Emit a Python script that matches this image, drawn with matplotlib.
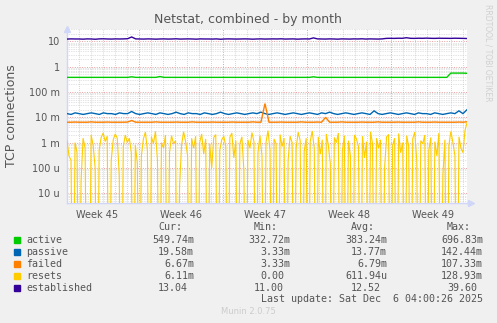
#!/usr/bin/env python3
"""
Munin style netstat chart, by month
"""

import numpy as np
import matplotlib
matplotlib.use('Agg')
import matplotlib.pyplot as plt
from matplotlib.patches import Rectangle

W, H = 497, 323
DAYS = 400 / 12.0   # days covered by the graph

week_labels = ['Week 45', 'Week 46', 'Week 47', 'Week 48', 'Week 49']
week_starts = [6, 13, 20, 27]
ytick_vals = [10, 1, 0.1, 0.01, 1e-3, 1e-4, 1e-5]
ytick_labels = ['10', '1', '100 m', '10 m', '1 m', '100 u', '10 u']

# 8 hour samples
active = [0.38, 0.38, 0.38, 0.38, 0.38, 0.38, 0.38, 0.38, 0.38, 0.38, 0.38, 0.38, 0.38, 0.38, 0.38, 0.38, 0.40, 0.38, 0.38, 0.38,
          0.38, 0.38, 0.38, 0.41, 0.38, 0.38, 0.38, 0.38, 0.38, 0.38, 0.38, 0.38, 0.38, 0.38, 0.38, 0.38, 0.38, 0.38, 0.38, 0.38,
          0.38, 0.38, 0.38, 0.38, 0.38, 0.38, 0.38, 0.38, 0.38, 0.38, 0.38, 0.38, 0.38, 0.38, 0.38, 0.38, 0.38, 0.38, 0.38, 0.38,
          0.38, 0.40, 0.38, 0.38, 0.38, 0.38, 0.38, 0.38, 0.38, 0.38, 0.38, 0.38, 0.38, 0.38, 0.38, 0.38, 0.38, 0.38, 0.38, 0.38,
          0.38, 0.38, 0.38, 0.38, 0.38, 0.38, 0.38, 0.38, 0.38, 0.38, 0.38, 0.38, 0.38, 0.38, 0.38, 0.56, 0.56, 0.56, 0.56, 0.55]

passive_m = [14, 13, 15, 14, 13, 14, 15, 14, 13, 15, 14, 14, 13, 15, 14, 14, 17, 14, 13, 14,
             15, 14, 13, 15, 14, 13, 14, 16, 14, 13, 15, 14, 14, 13, 15, 14, 13, 14, 16, 14,
             13, 14, 15, 14, 13, 14, 15, 14, 16, 14, 13, 14, 15, 14, 13, 14, 15, 14, 13, 14,
             15, 14, 13, 15, 14, 16, 14, 13, 14, 15, 14, 13, 14, 15, 14, 13, 18, 14, 13, 14,
             15, 14, 13, 14, 15, 14, 13, 15, 14, 14, 13, 15, 14, 13, 14, 15, 14, 18, 14, 20]

failed_m = [6.4, 6.4, 6.5, 6.4, 6.4, 6.4, 6.6, 6.4, 6.4, 6.4, 6.5, 6.4, 6.4, 6.4, 6.4, 6.5, 7.5, 6.4, 6.4, 6.4,
            6.4, 6.4, 6.6, 6.4, 6.4, 6.4, 6.4, 6.5, 6.4, 6.4, 6.4, 6.6, 6.4, 6.4, 6.4, 6.4, 6.5, 6.4, 6.4, 6.4,
            6.4, 6.5, 6.4, 6.4, 6.4, 6.4, 6.6, 6.4, 6.4, 35.0, 6.4, 6.4, 6.4, 6.5, 6.4, 6.4, 6.4, 6.4, 6.6, 6.4,
            6.4, 6.4, 6.5, 6.4, 10.0, 6.4, 6.4, 6.4, 6.6, 6.4, 6.4, 6.4, 6.4, 6.5, 6.4, 6.4, 6.4, 6.6, 6.4, 6.4,
            6.4, 6.4, 6.5, 6.4, 6.4, 6.4, 6.4, 6.6, 6.4, 6.4, 6.4, 6.5, 6.4, 6.4, 6.4, 6.4, 6.4, 6.5, 6.4, 6.67]

established = [12.4, 12.6, 12.5, 12.5, 12.3, 12.6, 12.5, 12.2, 12.6, 12.7, 12.5, 12.4, 12.6, 12.5, 12.6, 12.8, 15.0, 12.6, 12.5, 12.4,
               12.6, 12.5, 12.3, 12.5, 12.6, 12.4, 12.5, 12.7, 12.4, 12.5, 12.6, 12.5, 12.3, 12.6, 12.5, 12.5, 12.4, 12.6, 12.2, 12.5,
               12.6, 12.5, 12.4, 12.5, 12.6, 12.5, 12.3, 12.5, 12.6, 12.4, 12.5, 12.6, 12.5, 12.7, 12.4, 12.5, 12.6, 12.3, 12.5, 12.6,
               12.5, 13.8, 12.6, 12.5, 12.4, 12.6, 12.5, 12.3, 12.6, 12.5, 12.4, 12.6, 12.5, 12.7, 12.4, 12.6, 12.5, 12.4, 12.6, 13.2,
               13.3, 13.2, 13.4, 13.3, 14.0, 13.3, 13.2, 13.4, 13.3, 13.5, 13.3, 13.2, 13.4, 13.3, 13.3, 13.2, 13.4, 13.3, 13.2, 13.04]

# 4 hour samples, in milli
resets_m = [1.2, 0.3, 0.2, 0, 1.0, 0.4, 0, 0.03, 1.5, 0.6, 0, 0, 2.0, 0.8, 0.1, 0, 0.5, 1.6, 2.4, 1.1,
            1.8, 0, 0.2, 1.3, 2.2, 1.5, 0.05, 0, 0.7, 2.0, 1.0, 1.5, 0.4, 0, 0.8, 0.15,
            0, 0.3, 1.4, 2.6, 0.5, 0, 1.7, 0.9, 2.8, 0.2, 0, 1.0, 0.6, 2.0, 0, 0.4, 1.9, 0.9, 1.2, 0,
            0.02, 0.8, 2.7, 1.1, 0.3, 0, 1.5, 0.6, 1.8, 0, 1.0, 2.2, 0.35, 1.4, 0, 0.9, 0.1, 1.6, 2.1, 0, 0.5, 1.3,
            1.8, 0.7, 0, 1.6, 2.4, 0.25, 1.2, 0, 0.9, 1.7, 0.08, 0, 1.3, 0.6, 2.5, 1.1, 0, 0.4, 1.9, 0.3,
            0, 1.0, 3.0, 0.5, 0, 1.4, 0.9, 0, 2.1, 0.7, 1.5, 0, 0.2, 1.8, 1.0, 0, 0.6, 2.6, 1.2, 0, 0.45, 1.5,
            0, 1.1, 2.9, 0.6, 0, 1.7, 0.35, 1.3, 0, 2.2, 0.8, 0.15, 0, 1.6, 1.0, 2.4, 0, 0.5, 1.9, 0,
            1.2, 0.3, 0, 2.0, 1.4, 0.7, 0, 1.8, 0.25, 1.1, 0, 2.7, 0.9, 0, 1.5, 0.6, 1.3, 0, 0.1, 1.7, 2.1, 0,
            0.8, 1.5, 0, 2.3, 0.4, 1.0, 0, 1.9, 0.7, 0, 1.4, 2.6, 0.2, 0, 1.2, 0.9, 2.0, 0, 0.5, 1.6,
            0, 1.1, 0.3, 2.4, 0, 0.05, 1.3, 0, 0.8, 2.8, 1.0, 0.3, 0, 1.7, 0.6, 0.4, 3.0, 6.11]

names = ['active', 'passive', 'failed', 'resets', 'established']
colors = ['#00CC00', '#0066B3', '#FF8000', '#FFCC00', '#330099']
widths = [1.0, 1.0, 1.0, 0.8, 1.0]
cur = ['549.74m', '19.58m', '6.67m', '6.11m', '13.04']
mins = ['332.72m', '3.33m', '3.33m', '0.00', '11.00']
avgs = ['383.24m', '13.77m', '6.79m', '611.94u', '12.52']
maxs = ['696.83m', '142.44m', '107.33m', '128.93m', '39.60']

FG = '#555555'
GRID = '#c8c8c8'
MGRID = '#e6a0a0'
AXIS = '#CFD6F8'


def fx(x):
    return x / W


def fy(y):
    return 1 - y / H


def main():
    fig = plt.figure(figsize=(W / 100, H / 100), dpi=100, facecolor='#F0F0F0')
    ax = fig.add_axes([fx(67), fy(203), fx(400), 174 / H])
    ax.set_facecolor('white')
    ax.set_yscale('log')
    ax.set_xlim(0, DAYS)
    ax.set_ylim(4.1e-6, 31)

    # grid
    for d in range(0, int(DAYS) + 1):
        if d in week_starts:
            ax.axvline(d, color=MGRID, lw=0.7, ls=(0, (1, 1.5)), zorder=1)
        else:
            ax.axvline(d, color=GRID, lw=0.6, ls=(0, (1, 1.5)), zorder=1)
    for e in range(-6, 2):
        for m in range(2, 10):
            ax.axhline(m * 10.0 ** e, color=GRID, lw=0.5, ls=(0, (1, 1.5)), zorder=1)
    for v in ytick_vals:
        ax.axhline(v, color=MGRID, lw=0.7, ls=(0, (1, 1.5)), zorder=1)

    series = [np.array(active),
              np.array(passive_m) / 1000.0,
              np.array(failed_m) / 1000.0,
              np.array(resets_m) / 1000.0,
              np.array(established)]
    for vals, c, lw in zip(series, colors, widths):
        x = np.linspace(0, DAYS, len(vals))
        y = np.where(vals > 0, vals, 1e-12)
        ax.plot(x, y, color=c, lw=lw, zorder=3, solid_joinstyle='miter')

    ax.set_yticks(ytick_vals)
    ax.set_yticklabels(ytick_labels)
    ax.yaxis.set_minor_locator(matplotlib.ticker.NullLocator())
    ax.set_xticks([s - 3.5 for s in week_starts] + [week_starts[-1] + 3.5])
    ax.set_xticklabels(week_labels)
    ax.tick_params(axis='both', length=0, labelsize=7, colors=FG)
    ax.tick_params(axis='y', pad=5)
    ax.tick_params(axis='x', pad=5)
    for s in ['top', 'right']:
        ax.spines[s].set_visible(False)
    for s in ['left', 'bottom']:
        ax.spines[s].set_color(AXIS)
        ax.spines[s].set_linewidth(1.0)
    ax.plot([0], [1.0], marker='^', ms=5, color=AXIS, transform=ax.transAxes, clip_on=False)
    ax.plot([1.01], [0], marker='>', ms=5, color=AXIS, transform=ax.transAxes, clip_on=False)

    ax.set_ylabel('TCP connections', fontsize=9, color=FG, labelpad=8)

    fig.text(fx(248), fy(19), 'Netstat, combined - by month', ha='center', va='center',
             fontsize=9, color=FG)
    fig.text(fx(488), fy(53), 'RRDTOOL / TOBI OETIKER', rotation=-90, ha='center', va='center',
             fontsize=5.5, color='#d0d0d0')
    fig.text(fx(248), fy(312), 'Munin 2.0.75', ha='center', va='center', fontsize=6, color='#cccccc')

    # legend table
    mono = dict(family='DejaVu Sans Mono', fontsize=7.2, color=FG, va='center')
    cols = [194, 290, 387, 483]
    for h, xr in zip(['Cur:', 'Min:', 'Avg:', 'Max:'], cols):
        fig.text(fx(xr - 12), fy(227), h, ha='right', **mono)
    for i, name in enumerate(names):
        yy = 240 + 12 * i
        fig.patches.append(Rectangle((fx(14), fy(yy + 3)), 6 / W, 6 / H, color=colors[i],
                                     transform=fig.transFigure, figure=fig))
        fig.text(fx(26), fy(yy), name, ha='left', **mono)
        for vals, xr in zip([cur, mins, avgs, maxs], cols):
            v = vals[i]
            off = 0 if v[-1].isalpha() else 6
            fig.text(fx(xr - off), fy(yy), v, ha='right', **mono)
    fig.text(fx(483), fy(299), 'Last update: Sat Dec  6 04:00:26 2025', ha='right', **mono)

    fig.savefig('out.png', dpi=100, facecolor=fig.get_facecolor())


if __name__ == '__main__':
    main()
